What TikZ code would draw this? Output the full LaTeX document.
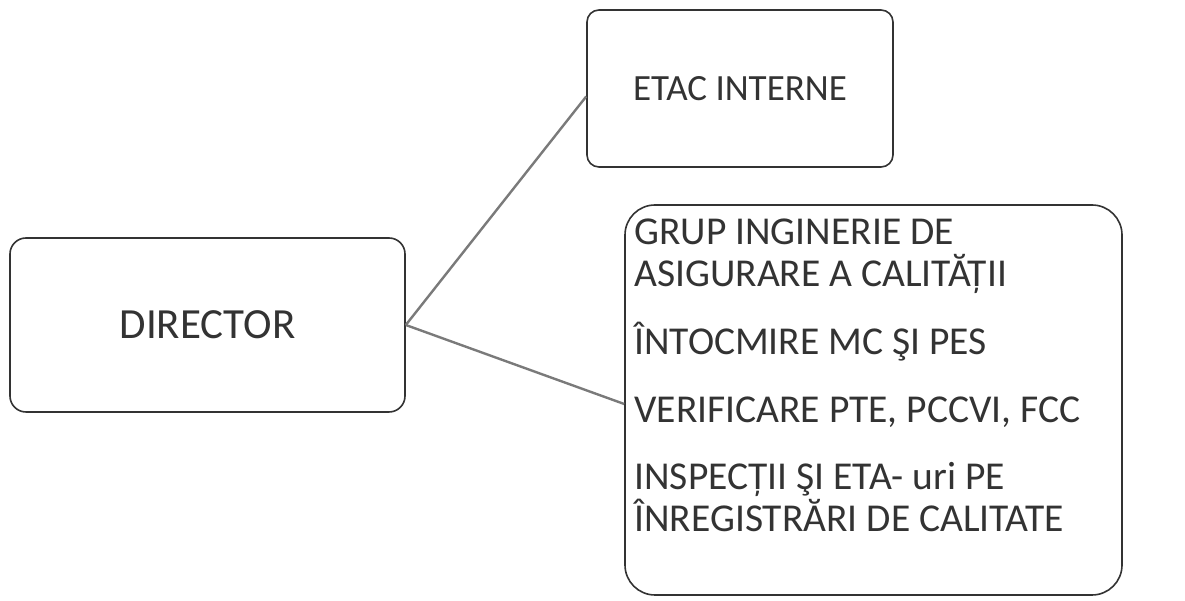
\documentclass[tikz,border=0pt]{standalone}
\usepackage{fontspec}
\setmainfont{Carlito}
\usetikzlibrary{positioning}
\definecolor{Ink}{HTML}{333333}
\definecolor{Wire}{HTML}{7A7A7A}
\tikzset{
    every node/.style={font=\fontsize{40}{42}\selectfont, text=Ink},
    orgbox/.style={
        draw=Ink, line width=1.6pt, fill=white,
        align=center, inner sep=0pt
    },
    orgwire/.style={
        draw=Wire, line width=2.4pt
    },
}
\begin{document}
\begin{tikzpicture}[x=1pt,y=1pt]
    \useasboundingbox (0,0) rectangle (1185,601);

    % Boxes
    \node[orgbox, rounded corners=16pt, minimum width=395pt, minimum height=174pt,
        font=\fontsize{43}{46}\selectfont]
        (dir) at (207.5,276) {DIRECTOR};
    \node[orgbox, rounded corners=12pt, minimum width=306pt, minimum height=157pt,
        font=\fontsize{37}{40}\selectfont]
        (etac) at (740,512.5) {ETAC INTERNE};
    \node[orgbox, rounded corners=30pt, minimum width=497pt, minimum height=390pt]
        (grp) at (873.5,201) {};

    % Text of the quality group
    \node[anchor=north west, align=left, inner sep=0pt,
        font=\fontsize{39.5}{42}\selectfont]
        (grptext) at ([xshift=10pt,yshift=-14pt]grp.north west)
        {GRUP INGINERIE DE\\ASIGURARE A CALITĂȚII\\[26pt]
         ÎNTOCMIRE MC ŞI PES\\[26pt]
         VERIFICARE PTE, PCCVI, FCC\\[25pt]
         INSPECȚII ŞI ETA- uri PE\\ÎNREGISTRĂRI DE CALITATE};

    % Connectors
    \draw[orgwire] (dir.east) -- ([yshift=-8pt]etac.west);
    \draw[orgwire] (dir.east) -- ([yshift=-4pt]grp.west);
\end{tikzpicture}
\end{document}
